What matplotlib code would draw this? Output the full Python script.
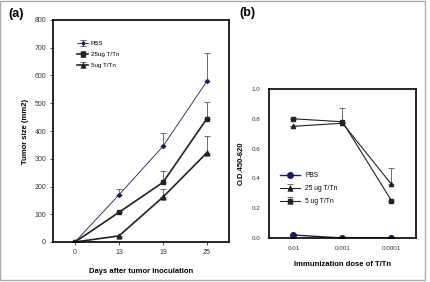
import matplotlib
matplotlib.use("Agg")
import matplotlib.pyplot as plt
from matplotlib.patches import Rectangle

plt.rcParams['font.family'] = ['Liberation Sans', 'DejaVu Sans']

# Panel (a)
days = ["0", "13", "19", "25"]
pbs_a = [0, 170, 345, 580]
pbs_a_err = [0, 20, 48, 100]
ug25_a = [0, 107, 215, 445]
ug25_a_err = [0, 0, 40, 60]
ug5_a = [0, 22, 162, 322]
ug5_a_err = [0, 0, 30, 60]

# Panel (b)
doses = ["0.01", "0.001", "0.0001"]
pbs_b = [0.02, 0.0, 0.0]
ug25_b = [0.75, 0.77, 0.36]
ug25_b_err = [0, 0, 0.11]
ug5_b = [0.80, 0.78, 0.25]
ug5_b_err = [0, 0.09, 0]

W, H = 431, 282
fig = plt.figure(figsize=(W/100, H/100), dpi=100)

def ax_rect(l, t, r, b):
    return [l/W, 1 - b/H, (r-l)/W, (b-t)/H]

# ---- (a)
axa = fig.add_axes(ax_rect(53, 20, 229, 242))
xa = list(range(len(days)))
axa.errorbar(xa, pbs_a, yerr=[[0]*4, pbs_a_err], color='#1a1a5a', ecolor='#555555',
             lw=0.6, marker='D', ms=2, elinewidth=0.6, capsize=2, capthick=0.6, label='PBS')
axa.errorbar(xa, ug25_a, yerr=[[0]*4, ug25_a_err], color='#222222', ecolor='#555555',
             lw=1.2, marker='s', ms=3.3, elinewidth=0.6, capsize=2, capthick=0.6, label='25ug T/Tn')
axa.errorbar(xa, ug5_a, yerr=[[0]*4, ug5_a_err], color='#222222', ecolor='#555555',
             lw=1.2, marker='^', ms=3.5, elinewidth=0.6, capsize=2, capthick=0.6, label='5ug T/Tn')
axa.set_xlim(-0.5, 3.5)
axa.set_ylim(0, 800)
axa.set_yticks(range(0, 801, 100))
axa.set_xticks(xa)
axa.set_xticklabels(days)
axa.tick_params(labelsize=5, length=2, width=0.6, colors='#333333', pad=3)
for s in axa.spines.values():
    s.set_linewidth(1.2)
axa.set_ylabel('Tumor size (mm2)', fontsize=5.5, fontweight='bold', labelpad=4)
axa.set_xlabel('Days after tumor inoculation', fontsize=5.5, fontweight='bold', labelpad=9)
axa.legend(loc='upper left', bbox_to_anchor=(0.12, 0.92), fontsize=4.5, frameon=False,
           handlelength=1.8, labelspacing=0.9, borderpad=0, handletextpad=0.4,
           markerscale=0.8)

# ---- (b)
axb = fig.add_axes(ax_rect(269, 89, 416, 238))
xb = list(range(len(doses)))
axb.plot(xb, pbs_b, color='#1a1a5a', lw=1.0, marker='o', ms=4, label='PBS')
axb.errorbar(xb, ug25_b, yerr=[[0]*3, ug25_b_err], color='#222222', ecolor='#555555',
             lw=0.8, marker='^', ms=3, elinewidth=0.6, capsize=2, capthick=0.6, label='25 ug T/Tn')
axb.errorbar(xb, ug5_b, yerr=[[0]*3, ug5_b_err], color='#222222', ecolor='#555555',
             lw=0.8, marker='s', ms=3, elinewidth=0.6, capsize=2, capthick=0.6, label='5 ug T/Tn')
axb.set_xlim(-0.5, 2.5)
axb.set_ylim(0, 1.0)
axb.set_yticks([0.0, 0.2, 0.4, 0.6, 0.8, 1.0])
axb.set_yticklabels(['0.0', '0.2', '0.4', '0.6', '0.8', '1.0'])
axb.set_xticks(xb)
axb.set_xticklabels(doses)
axb.tick_params(labelsize=4.5, length=0, colors='#333333', pad=6)
for s in axb.spines.values():
    s.set_linewidth(1.2)
axb.set_ylabel('O.D.450-620', fontsize=5.5, fontweight='bold', labelpad=5)
axb.set_xlabel('Immunization dose of T/Tn', fontsize=5.5, fontweight='bold', labelpad=7)
axb.legend(loc='lower left', bbox_to_anchor=(0.05, 0.2), fontsize=4.8, frameon=False,
           handlelength=3, labelspacing=0.9, borderpad=0)

fig.text(8/W, 1 - 14/H, '(a)', fontsize=9, fontweight='bold', va='center', ha='left')
fig.text(239/W, 1 - 13/H, '(b)', fontsize=9, fontweight='bold', va='center', ha='left')

# gray frame
fig.add_artist(Rectangle((0.5/W, 1 - 280/H), 424.5/W, 279/H, transform=fig.transFigure,
                         fill=False, edgecolor='#aaaaaa', lw=1.0))

fig.savefig('out.png', dpi=100)
